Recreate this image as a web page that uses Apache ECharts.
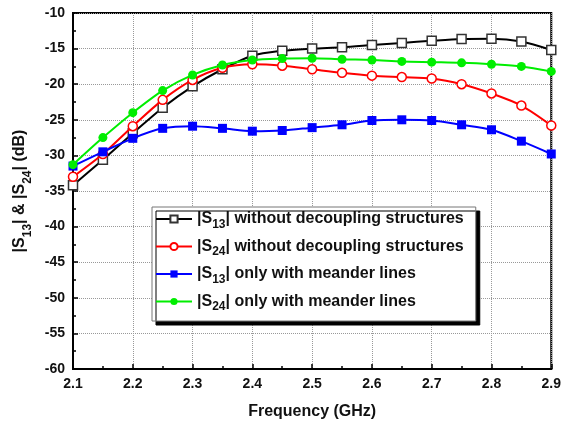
<!DOCTYPE html>
<html>
<head>
<meta charset="utf-8">
<script src="https://cdn.jsdelivr.net/npm/echarts@6/dist/echarts.min.js"></script>
<style>html,body{margin:0;padding:0;background:#fff;}#c{width:564px;height:428px;}</style>
</head>
<body>
<div id="c"></div>
<script>
var freq = [2.1,2.15,2.2,2.25,2.3,2.35,2.4,2.45,2.5,2.55,2.6,2.65,2.7,2.75,2.8,2.85,2.9];
var s13Without = [-34.2,-30.6,-26.9,-23.3,-20.3,-17.9,-16.0,-15.3,-15.0,-14.8,-14.5,-14.2,-13.9,-13.65,-13.6,-14.0,-15.2];
var s24Without = [-33.0,-29.8,-25.9,-22.2,-19.4,-17.7,-17.2,-17.4,-17.9,-18.4,-18.8,-19.0,-19.2,-20.0,-21.3,-23.0,-25.8];
var s13Meander = [-31.5,-29.5,-27.6,-26.2,-25.9,-26.2,-26.6,-26.5,-26.1,-25.7,-25.1,-25.0,-25.1,-25.7,-26.4,-28.0,-29.8];
var s24Meander = [-31.3,-27.5,-24.0,-20.9,-18.7,-17.3,-16.6,-16.4,-16.35,-16.5,-16.6,-16.8,-16.9,-17.0,-17.2,-17.5,-18.2];
var seriesNames = ['|S{sub|13}| without decoupling structures','|S{sub|24}| without decoupling structures','|S{sub|13}| only with meander lines','|S{sub|24}| only with meander lines'];

function pairs(v){ return freq.map(function(f,i){ return [f, v[i]]; }); }

var chart = echarts.init(document.getElementById('c'));
var base = {type:'line', smooth:0.3, symbolSize:9, lineStyle:{width:2}};
chart.setOption({
  animation:false,
  backgroundColor:'#fff',
  grid:{left:73,right:12,top:13,bottom:59,show:true,borderColor:'#000',borderWidth:2,backgroundColor:'transparent'},
  xAxis:{type:'value',min:2.1,max:2.9,interval:0.1,
    name:'Frequency (GHz)',nameLocation:'middle',nameGap:35,
    nameTextStyle:{fontFamily:'Liberation Sans',fontWeight:'bold',fontSize:16,color:'#111'},
    axisLine:{lineStyle:{color:'#000',width:2}},
    axisTick:{inside:true,length:5,lineStyle:{color:'#000',width:1.5}},
    minorTick:{show:true,splitNumber:2,length:3,lineStyle:{color:'#000',width:1.5}},
    axisLabel:{fontFamily:'Liberation Sans',fontWeight:'bold',fontSize:14,color:'#111',margin:8,formatter:function(v){return v.toFixed(1);}},
    splitLine:{show:true,lineStyle:{type:'dotted',color:'#999',width:1}}
  },
  yAxis:{type:'value',min:-60,max:-10,interval:5,
    name:'|S{sub|13}| & |S{sub|24}| (dB)',nameLocation:'middle',nameGap:45,
    nameTextStyle:{fontFamily:'Liberation Sans',fontWeight:'bold',fontSize:16,color:'#111',
      rich:{sub:{fontFamily:'Liberation Sans',fontWeight:'bold',fontSize:12,color:'#111',verticalAlign:'bottom',padding:[0,0,-6,0]}}},
    axisLine:{lineStyle:{color:'#000',width:2}},
    axisTick:{inside:true,length:5,lineStyle:{color:'#000',width:1.5}},
    minorTick:{show:true,splitNumber:2,length:3,lineStyle:{color:'#000',width:1.5}},
    axisLabel:{fontFamily:'Liberation Sans',fontWeight:'bold',fontSize:14,color:'#111',margin:8},
    splitLine:{show:true,lineStyle:{type:'dotted',color:'#999',width:1}}
  },
  legend:{
    orient:'vertical',left:152,top:207,itemWidth:36,itemHeight:9,itemGap:8,
    backgroundColor:'#fff',borderColor:'#777',borderWidth:1,padding:[4,12,8,3],
    shadowColor:'#000',shadowBlur:0,shadowOffsetX:4,shadowOffsetY:4,
    textStyle:{fontFamily:'Liberation Sans',fontWeight:'bold',fontSize:16,color:'#111',
      rich:{sub:{fontFamily:'Liberation Sans',fontWeight:'bold',fontSize:12,color:'#111',verticalAlign:'top',padding:[11,0,0,0]}}},
    data:seriesNames
  },
  series:[
    Object.assign({},base,{name:seriesNames[0],data:pairs(s13Without),symbol:'rect',
      lineStyle:{width:2,color:'#000'},itemStyle:{color:'#fff',borderColor:'#333',borderWidth:1.5},z:3}),
    Object.assign({},base,{name:seriesNames[1],data:pairs(s24Without),symbol:'circle',
      lineStyle:{width:2,color:'#ff0000'},itemStyle:{color:'#fff',borderColor:'#ff0000',borderWidth:1.5},z:4}),
    Object.assign({},base,{name:seriesNames[2],data:pairs(s13Meander),symbol:'rect',
      lineStyle:{width:2,color:'#0000ff'},itemStyle:{color:'#0000ff'},z:5}),
    Object.assign({},base,{name:seriesNames[3],data:pairs(s24Meander),symbol:'circle',
      lineStyle:{width:2,color:'#00ee00'},itemStyle:{color:'#00ee00'},z:6})
  ]
});
</script>
</body>
</html>
